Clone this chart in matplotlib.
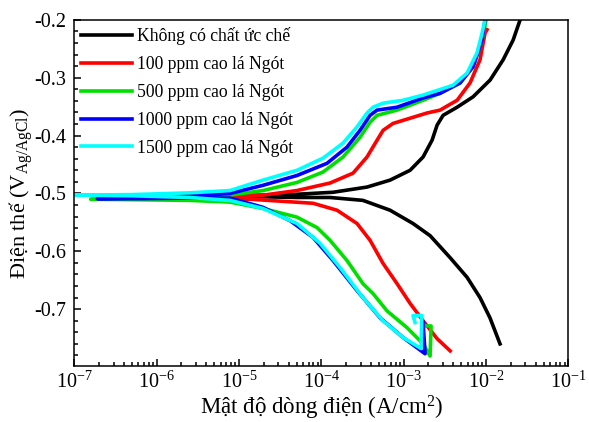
import numpy as np
import matplotlib
matplotlib.use("Agg")
import matplotlib.pyplot as plt
from matplotlib.ticker import (MultipleLocator, FixedLocator, LogLocator,
                               LogFormatterMathtext, NullFormatter)

plt.rcParams["font.family"] = ["Liberation Serif", "DejaVu Serif"]
plt.rcParams["mathtext.fontset"] = "custom"
plt.rcParams["mathtext.rm"] = "Liberation Serif"
plt.rcParams["mathtext.it"] = "Liberation Serif:italic"
plt.rcParams["axes.unicode_minus"] = False

# ---------------------------------------------------------------------------
# Tafel curves: log10(i / A cm^-2) and E (V vs Ag/AgCl)
# cathodic branches run from Ecorr outwards, anodic from Ecorr upwards
# ---------------------------------------------------------------------------
labels = ["Không có chất ức chế", "100 ppm cao lá Ngót", "500 ppm cao lá Ngót",
          "1000 ppm cao lá Ngót", "1500 ppm cao lá Ngót"]
colors = ["#000000", "#ff0000", "#00e000", "#0000ff", "#00ffff"]
x_decades = [-7, -6, -5, -4, -3, -2, -1]
y_ticks = [-0.7, -0.6, -0.5, -0.4, -0.3, -0.2]

# blank
blank_cat_logi = [-5.0, -4.295, -3.894, -3.494, -3.165, -2.886, -2.679, -2.436,
                  -2.230, -2.073, -1.952, -1.830]
blank_cat_E = [-0.505, -0.507, -0.507, -0.512, -0.529, -0.552, -0.573, -0.611,
               -0.645, -0.680, -0.715, -0.760]
blank_rest_logi = [-5.8]
blank_rest_E = [-0.503]
blank_an_logi = [-4.5, -3.858, -3.445, -3.165, -2.922, -2.764, -2.655, -2.594,
                 -2.521, -2.351, -2.157, -1.950, -1.792, -1.671, -1.586]
blank_an_E = [-0.503, -0.498, -0.489, -0.477, -0.460, -0.437, -0.408, -0.382,
              -0.365, -0.351, -0.333, -0.304, -0.269, -0.235, -0.200]

# 100 ppm
p100_cat_logi = [-4.866, -4.100, -3.809, -3.566, -3.408, -3.250, -3.080, -2.922,
                 -2.764, -2.594, -2.436]
p100_cat_E = [-0.510, -0.517, -0.529, -0.552, -0.581, -0.621, -0.656, -0.690,
              -0.720, -0.751, -0.772]
p100_rest_logi = [-5.8]
p100_rest_E = [-0.508]
p100_an_logi = [-5.3, -4.708, -4.295, -3.894, -3.615, -3.445, -3.323, -3.250,
                -3.129, -2.922, -2.716, -2.558, -2.351, -2.194, -2.073, -2.012,
                -1.988]
p100_an_E = [-0.507, -0.503, -0.495, -0.482, -0.465, -0.437, -0.408, -0.391,
             -0.379, -0.370, -0.361, -0.356, -0.339, -0.309, -0.269, -0.223,
             -0.217]

# 500 ppm
p500_cat_logi = [-6.2, -5.6, -5.109, -4.708, -4.295, -4.052, -3.894, -3.688,
                 -3.494, -3.372, -3.202, -2.959, -2.764, -2.679, -2.667, -2.728]
p500_cat_E = [-0.511, -0.512, -0.515, -0.526, -0.541, -0.559, -0.581, -0.616,
              -0.656, -0.673, -0.703, -0.732, -0.760, -0.781, -0.729, -0.729]
p500_rest_logi = [-6.8]
p500_rest_E = [-0.510]
p500_an_logi = [-6.2, -5.6, -5.109, -4.708, -4.295, -3.979, -3.736, -3.530,
                -3.408, -3.323, -3.080, -2.764, -2.558, -2.315, -2.157, -2.048,
                -2.000]
p500_an_E = [-0.509, -0.507, -0.503, -0.495, -0.481, -0.463, -0.437, -0.403,
             -0.377, -0.365, -0.356, -0.339, -0.327, -0.309, -0.281, -0.235,
             -0.200]

# 1000 ppm
p1000_cat_logi = [-6.2, -5.6, -5.109, -4.708, -4.380, -4.100, -3.857, -3.566,
                  -3.286, -3.007, -2.740, -2.764]
p1000_cat_E = [-0.509, -0.508, -0.508, -0.524, -0.547, -0.576, -0.616, -0.668,
               -0.715, -0.749, -0.777, -0.723]
p1000_rest_logi = [-6.72]
p1000_rest_E = [-0.509]
p1000_an_logi = [-6.2, -5.6, -5.109, -4.708, -4.295, -3.931, -3.688, -3.530,
                 -3.408, -3.323, -3.080, -2.764, -2.558, -2.315, -2.157, -2.048,
                 -2.012]
p1000_an_E = [-0.508, -0.505, -0.500, -0.486, -0.469, -0.448, -0.420, -0.391,
              -0.365, -0.356, -0.351, -0.335, -0.327, -0.309, -0.281, -0.235,
              -0.200]

# 1500 ppm
p1500_cat_logi = [-6.3, -5.6, -5.109, -4.708, -4.295, -4.016, -3.773, -3.494,
                  -3.251, -3.007, -2.789, -2.780, -2.886, -2.862]
p1500_cat_E = [-0.504, -0.507, -0.512, -0.526, -0.552, -0.586, -0.628, -0.680,
               -0.720, -0.749, -0.768, -0.711, -0.711, -0.723]
p1500_rest_logi = [-7.0]
p1500_rest_E = [-0.503]
p1500_an_logi = [-6.3, -5.6, -5.109, -4.708, -4.295, -3.979, -3.736, -3.566,
                 -3.445, -3.372, -3.250, -3.007, -2.764, -2.400, -2.230, -2.109,
                 -2.048, -2.012]
p1500_an_E = [-0.502, -0.499, -0.495, -0.477, -0.460, -0.439, -0.413, -0.385,
              -0.361, -0.351, -0.344, -0.339, -0.330, -0.313, -0.292, -0.257,
              -0.223, -0.200]

series = [
    (blank_cat_logi, blank_cat_E, blank_rest_logi, blank_rest_E, blank_an_logi, blank_an_E),
    (p100_cat_logi, p100_cat_E, p100_rest_logi, p100_rest_E, p100_an_logi, p100_an_E),
    (p500_cat_logi, p500_cat_E, p500_rest_logi, p500_rest_E, p500_an_logi, p500_an_E),
    (p1000_cat_logi, p1000_cat_E, p1000_rest_logi, p1000_rest_E, p1000_an_logi, p1000_an_E),
    (p1500_cat_logi, p1500_cat_E, p1500_rest_logi, p1500_rest_E, p1500_an_logi, p1500_an_E),
]

fig = plt.figure(figsize=(5.89, 4.22), dpi=100)
ax = fig.add_axes([0.126, 0.133, 0.839, 0.820])

for (cl, ce, rl, re_, al, ae), lab, col in zip(series, labels, colors):
    logi = list(reversed(cl)) + rl + al
    E = list(reversed(ce)) + re_ + ae
    ax.plot(10.0 ** np.array(logi), E, color=col, lw=2.6, label=lab,
            solid_joinstyle="round")

ax.set_xscale("log")
ax.set_xlim(1e-7, 1e-1)
ax.set_ylim(-0.798, -0.2)
ax.yaxis.set_major_locator(FixedLocator(y_ticks))
ax.yaxis.set_minor_locator(MultipleLocator(0.02))
ax.yaxis.set_major_formatter(plt.FuncFormatter(lambda v, p: f"{v:.1f}"))
ax.xaxis.set_major_locator(FixedLocator([10.0 ** d for d in x_decades]))
ax.xaxis.set_major_formatter(LogFormatterMathtext())
ax.xaxis.set_minor_locator(LogLocator(base=10, subs=np.arange(2, 10), numticks=20))
ax.xaxis.set_minor_formatter(NullFormatter())

ax.tick_params(which="both", direction="in", top=False, right=False,
               labelsize=14.5, width=1.1)
ax.tick_params(axis="x", pad=4)
ax.tick_params(axis="y", pad=6)
ax.tick_params(which="major", length=5)
ax.tick_params(which="minor", length=3)
for s in ax.spines.values():
    s.set_linewidth(1.1)

ax.set_xlabel("Mật độ dòng điện (A/cm$^{2}$)", fontsize=16.5, labelpad=1)
ax.set_ylabel(r"Điện thế (V$_{\mathrm{Ag/AgCl}}$)", fontsize=16, labelpad=-1)

ax.legend(loc="upper left", frameon=False, fontsize=12.7, handlelength=2.9,
          handletextpad=0.25, labelspacing=0.62, borderaxespad=0.3,
          borderpad=0.1)

fig.savefig("out.png", dpi=100)
